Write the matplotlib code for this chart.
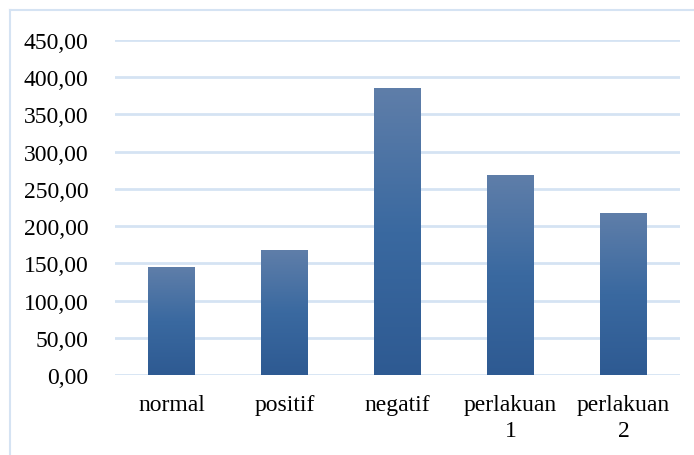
import matplotlib
matplotlib.use("Agg")
import matplotlib.pyplot as plt
import numpy as np
from matplotlib.colors import LinearSegmentedColormap
from matplotlib.lines import Line2D

categories = ["normal", "positif", "negatif", "perlakuan\n1", "perlakuan\n2"]
values = [145.0, 167.5, 385.0, 268.0, 217.0]
yticks = [0, 50, 100, 150, 200, 250, 300, 350, 400, 450]

plt.rcParams['font.family'] = ['Liberation Serif', 'DejaVu Serif']

fig = plt.figure(figsize=(6.94, 4.56), dpi=100)
ax = fig.add_axes([115/694, 80/456, 565/694, 335/456])

x = np.arange(len(categories))
bars = ax.bar(x, values, width=0.41, color='none', edgecolor='none', zorder=3)

cmap = LinearSegmentedColormap.from_list('g', ['#2e5a92', '#3a69a0', '#5f7ea9'])
grad = np.linspace(0, 1, 256).reshape(-1, 1)
for b in bars:
    x0, w, h = b.get_x(), b.get_width(), b.get_height()
    im = ax.imshow(grad, cmap=cmap, aspect='auto', origin='lower',
                   extent=[x0, x0 + w, 0, h], zorder=3)
    im.set_clip_path(b)

ax.set_xlim(-0.5, len(categories) - 0.5)
ax.set_ylim(0, 450)
ax.set_yticks(yticks)
ax.set_yticklabels([f"{v:.2f}".replace('.', ',') for v in yticks])
ax.set_xticks(x)
ax.set_xticklabels(categories, linespacing=1.3)
ax.tick_params(axis='both', length=0, labelsize=17, colors='black')
ax.tick_params(axis='y', pad=19)
ax.tick_params(axis='x', pad=14)
ax.grid(axis='y', color='#d5e3f3', linewidth=2.0, zorder=0)
ax.set_axisbelow(True)
for s in ax.spines.values():
    s.set_visible(False)

# partial chart-area border (left and top)
fig.add_artist(Line2D([10/694, 10/694], [0, 1 - 11/456], transform=fig.transFigure,
                      color='#d5e3f3', linewidth=1.5))
fig.add_artist(Line2D([10/694, 1], [1 - 11/456, 1 - 11/456], transform=fig.transFigure,
                      color='#d5e3f3', linewidth=1.5))

fig.savefig("out.png", dpi=100)
